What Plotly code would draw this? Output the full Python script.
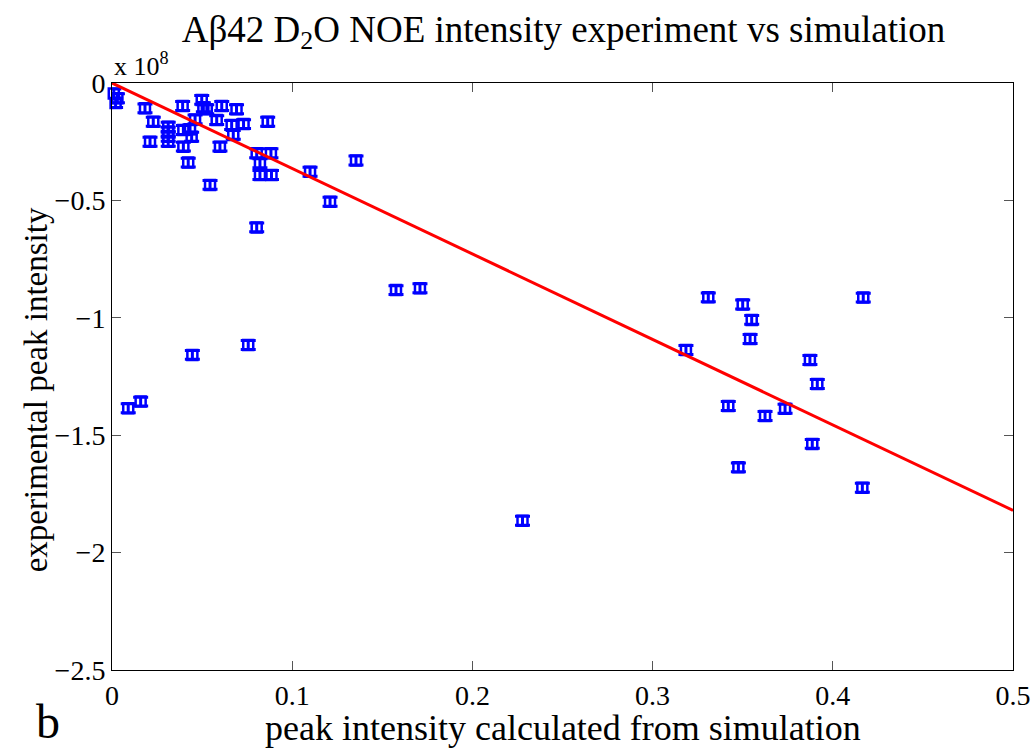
import plotly.graph_objects as go

# simulated peak intensity (x) and experimental peak intensity (y, units of 1e8)
sim_intensity = [0.001, 0.003, 0.002, 0.0183, 0.0229, 0.0211, 0.0312, 0.0312, 0.0312, 0.0312,
                 0.0392, 0.0396, 0.0396, 0.0423, 0.0461, 0.0433, 0.0442, 0.0498, 0.0507, 0.0526,
                 0.0544, 0.0581, 0.0599, 0.0609, 0.0664, 0.0673, 0.0691, 0.0730, 0.0803, 0.0821,
                 0.0821, 0.0885, 0.0882, 0.0864, 0.0803, 0.1099, 0.1210, 0.1354, 0.1576, 0.1709,
                 0.2278, 0.0446, 0.0756, 0.0090, 0.0159,
                 0.3309, 0.3500, 0.3550, 0.3541, 0.3185, 0.3873, 0.3914, 0.3420, 0.3624, 0.3735,
                 0.3886, 0.3476, 0.4169, 0.4164]
exp_intensity = [-0.045, -0.065, -0.085, -0.108, -0.165, -0.250, -0.186, -0.207, -0.229, -0.250,
                 -0.098, -0.200, -0.271, -0.339, -0.155, -0.197, -0.229, -0.072, -0.103, -0.112,
                 -0.434, -0.158, -0.271, -0.098, -0.179, -0.221, -0.112, -0.175, -0.299, -0.342,
                 -0.392, -0.392, -0.299, -0.165, -0.615, -0.378, -0.506, -0.330, -0.882, -0.874,
                 -1.864, -1.158, -1.116, -1.385, -1.357,
                 -0.913, -0.943, -1.009, -1.090, -1.137, -1.180, -1.282, -1.376, -1.418, -1.387,
                 -1.537, -1.637, -0.914, -1.724]
exp_error = [0.019] * len(exp_intensity)

fit_x = [0.0, 0.5]
fit_slope = -3.64

x_ticks = [0, 0.1, 0.2, 0.3, 0.4, 0.5]
x_ticktext = ["0", "0.1", "0.2", "0.3", "0.4", "0.5"]
y_ticks = [0, -0.5, -1, -1.5, -2, -2.5]
y_ticktext = ["0", "\u22120.5", "\u22121", "\u22121.5", "\u22122", "\u22122.5"]

FONT = "Liberation Serif"

fig = go.Figure()
fig.add_trace(go.Scatter(
    x=sim_intensity, y=exp_intensity, mode="markers",
    marker=dict(symbol="square-open", size=10, color="#0000ff", line=dict(width=2.5, color="#0000ff")),
    error_y=dict(type="data", array=exp_error, visible=True, color="#0000ff", thickness=3, width=7.5),
    showlegend=False, cliponaxis=False,
))
fig.add_trace(go.Scatter(
    x=fit_x, y=[fit_slope * v for v in fit_x], mode="lines",
    line=dict(color="#ff0000", width=3), showlegend=False,
))

axis_common = dict(
    showline=True, linecolor="black", linewidth=1, mirror="ticks",
    ticks="inside", ticklen=9, tickcolor="#555555", tickwidth=1,
    showgrid=False, zeroline=False, automargin=False,
    tickfont=dict(family=FONT, size=28, color="black"),
)

fig.update_layout(
    width=1034, height=753,
    margin=dict(l=112, r=21, t=83, b=83),
    paper_bgcolor="white", plot_bgcolor="white",
    font=dict(family=FONT, color="black"),
    title=dict(text="A\u03b242 D<sub>2</sub>O NOE intensity experiment vs simulation",
               x=0.545, xanchor="center", y=0.962, yanchor="middle",
               font=dict(family=FONT, size=37, color="black")),
    xaxis=dict(range=[0, 0.5], tickvals=x_ticks, ticktext=x_ticktext, **axis_common),
    yaxis=dict(range=[-2.5, 0], tickvals=y_ticks, ticktext=y_ticktext, **axis_common),
    annotations=[
        dict(text="peak intensity calculated from simulation", xref="paper", yref="paper",
             x=0.5, y=-0.098, xanchor="center", yanchor="middle", showarrow=False,
             font=dict(family=FONT, size=36, color="black")),
        dict(text="experimental peak intensity", xref="paper", yref="paper",
             x=-0.084, y=0.477, xanchor="center", yanchor="middle", showarrow=False,
             textangle=-90, font=dict(family=FONT, size=33, color="black")),
        dict(text="x 10<sup>8</sup>", xref="paper", yref="paper", x=0.0, y=1.0,
             xanchor="left", yanchor="bottom", showarrow=False,
             font=dict(family=FONT, size=26, color="black")),
        dict(text="b", xref="paper", yref="paper", x=-0.071, y=-0.137,
             xanchor="center", yanchor="bottom", showarrow=False,
             font=dict(family=FONT, size=48, color="black")),
    ],
)

fig.write_html("out.html")
